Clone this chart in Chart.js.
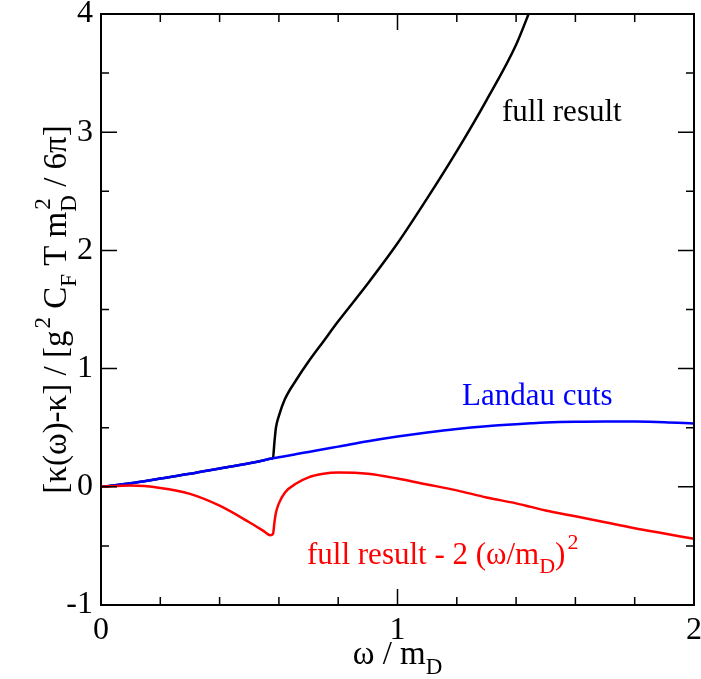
<!DOCTYPE html>
<html>
<head>
<meta charset="utf-8">
<script src="https://cdn.jsdelivr.net/npm/chart.js@4.4.0/dist/chart.umd.min.js"></script>
<style>
  html, body { margin: 0; padding: 0; background: #fff; }
</style>
</head>
<body>
<canvas id="chart" width="701" height="679"></canvas>
<script>
// omega / m_D sample points
const omega = [0, 0.1, 0.2, 0.3, 0.4, 0.5, 0.55, 0.571, 0.58, 0.585, 0.59, 0.6, 0.62, 0.66, 0.7, 0.75, 0.8, 0.9, 1.0, 1.1, 1.2, 1.3, 1.4, 1.45, 1.5, 1.6, 1.7, 1.8, 1.9, 2.0];

// full result (leaves the frame at the top near 1.44)
const fullResult = [0, 0.03, 0.07, 0.11, 0.155, 0.2, 0.225, 0.237, 0.245, 0.38, 0.5, 0.6, 0.74, 0.91, 1.06, 1.23, 1.40, 1.72, 2.06, 2.44, 2.84, 3.27, 3.74, 4.05, null, null, null, null, null, null];

// Landau cuts
const landauCuts = [0, 0.03, 0.07, 0.11, 0.155, 0.2, 0.225, 0.237, 0.241, 0.243, 0.245, 0.25, 0.258, 0.277, 0.295, 0.318, 0.34, 0.385, 0.425, 0.46, 0.49, 0.513, 0.53, 0.537, 0.543, 0.55, 0.553, 0.552, 0.546, 0.535];

// full result - 2 (omega/m_D)^2
const fullMinus = [0, 0.01, -0.01, -0.06, -0.16, -0.3, -0.377, -0.41, -0.40, -0.30, -0.22, -0.14, -0.05, 0.03, 0.08, 0.11, 0.12, 0.11, 0.07, 0.02, -0.03, -0.09, -0.14, -0.17, -0.2, -0.25, -0.3, -0.35, -0.395, -0.44];

const xTicks = [0, 1, 2];
const yTicks = [-1, 0, 1, 2, 3, 4];
const xMinorStep = 0.2;
const yMinorStep = 0.5;

const serif = '"Liberation Serif", "DejaVu Serif", serif';

function toPoints(ys) {
    return omega.map((x, i) => ({ x: x, y: ys[i] }));
}

// Draw text made of normal / sub / sup / subsup pieces, starting at (x, y) baseline
function drawRich(ctx, parts, x, y, size, color) {
    const small = Math.round(size * 0.7);
    ctx.fillStyle = color;
    ctx.textBaseline = 'alphabetic';
    ctx.textAlign = 'left';
    let cx = x;
    parts.forEach(p => {
        if (p.type === 'n') {
            ctx.font = size + 'px ' + serif;
            ctx.fillText(p.t, cx, y);
            cx += ctx.measureText(p.t).width;
        } else if (p.type === 'sub') {
            ctx.font = small + 'px ' + serif;
            ctx.fillText(p.t, cx, y + size * 0.3);
            cx += ctx.measureText(p.t).width;
        } else if (p.type === 'sup') {
            ctx.font = small + 'px ' + serif;
            ctx.fillText(p.t, cx + 2, y - size * 0.5);
            cx += ctx.measureText(p.t).width + 2;
        } else if (p.type === 'subsup') {
            ctx.font = small + 'px ' + serif;
            ctx.fillText(p.sub, cx, y + size * 0.3);
            ctx.fillText(p.sup, cx + 2, y - size * 0.5);
            cx += Math.max(ctx.measureText(p.sub).width, ctx.measureText(p.sup).width + 2);
        }
    });
    return cx - x;
}

function richWidth(ctx, parts, size) {
    const small = Math.round(size * 0.7);
    let w = 0;
    parts.forEach(p => {
        if (p.type === 'n') {
            ctx.font = size + 'px ' + serif;
            w += ctx.measureText(p.t).width;
        } else if (p.type === 'subsup') {
            ctx.font = small + 'px ' + serif;
            w += Math.max(ctx.measureText(p.sub).width, ctx.measureText(p.sup).width + 2);
        } else {
            ctx.font = small + 'px ' + serif;
            w += ctx.measureText(p.t).width + (p.type === 'sup' ? 2 : 0);
        }
    });
    return w;
}

const yTitle = [
    { type: 'n', t: '[\u03BA(\u03C9)-\u03BA] / [g' },
    { type: 'sup', t: '2' },
    { type: 'n', t: ' C' },
    { type: 'sub', t: 'F' },
    { type: 'n', t: ' T m' },
    { type: 'subsup', sub: 'D', sup: '2' },
    { type: 'n', t: ' / 6\u03C0]' }
];

const xTitle = [
    { type: 'n', t: '\u03C9 / m' },
    { type: 'sub', t: 'D' }
];

const redLabel = [
    { type: 'n', t: 'full result - 2 (\u03C9/m' },
    { type: 'sub', t: 'D' },
    { type: 'n', t: ')' },
    { type: 'sup', t: '2' }
];

// Frame, inward ticks, axis titles and curve labels
const decorations = {
    id: 'decorations',
    afterDraw(chart) {
        const ctx = chart.ctx;
        const xs = chart.scales.x;
        const ys = chart.scales.y;
        const a = chart.chartArea;
        ctx.save();

        ctx.strokeStyle = '#000';
        ctx.lineWidth = 2;
        ctx.strokeRect(a.left, a.top, a.right - a.left, a.bottom - a.top);

        ctx.lineWidth = 1.5;
        ctx.beginPath();
        for (let i = 0; i <= 10; i++) {
            const v = i * xMinorStep;
            const px = xs.getPixelForValue(v);
            const len = (i % 5 === 0) ? 16 : 8;
            ctx.moveTo(px, a.bottom); ctx.lineTo(px, a.bottom - len);
            ctx.moveTo(px, a.top); ctx.lineTo(px, a.top + len);
        }
        for (let i = 0; i <= 10; i++) {
            const v = -1 + i * yMinorStep;
            const py = ys.getPixelForValue(v);
            const len = (i % 2 === 0) ? 16 : 8;
            ctx.moveTo(a.left, py); ctx.lineTo(a.left + len, py);
            ctx.moveTo(a.right, py); ctx.lineTo(a.right - len, py);
        }
        ctx.stroke();

        // x axis title
        const xw = richWidth(ctx, xTitle, 33);
        drawRich(ctx, xTitle, (a.left + a.right) / 2 - xw / 2, 664, 33, '#000');

        // y axis title (rotated)
        const yw = richWidth(ctx, yTitle, 33);
        ctx.save();
        ctx.translate(66, (a.top + a.bottom) / 2);
        ctx.rotate(-Math.PI / 2);
        drawRich(ctx, yTitle, -yw / 2, 0, 33, '#000');
        ctx.restore();

        // curve labels
        drawRich(ctx, [{ type: 'n', t: 'full result' }], 502, 121, 31, '#000');
        drawRich(ctx, [{ type: 'n', t: 'Landau cuts' }], 462, 405, 31, '#0000ff');
        drawRich(ctx, redLabel, 307, 564, 31, '#ff0000');

        ctx.restore();
    }
};

new Chart(document.getElementById('chart'), {
    type: 'line',
    data: {
        datasets: [
            {
                label: 'full result - 2 (omega/m_D)^2',
                data: toPoints(fullMinus),
                borderColor: '#ff0000',
                borderWidth: 2.5,
                pointRadius: 0,
                cubicInterpolationMode: 'monotone',
                clip: 0
            },
            {
                label: 'Landau cuts',
                data: toPoints(landauCuts),
                borderColor: '#0000ff',
                borderWidth: 2.5,
                pointRadius: 0,
                cubicInterpolationMode: 'monotone',
                clip: 0
            },
            {
                label: 'full result',
                data: toPoints(fullResult),
                borderColor: '#000000',
                borderWidth: 2.5,
                pointRadius: 0,
                spanGaps: false,
                cubicInterpolationMode: 'monotone',
                clip: 0
            }
        ]
    },
    options: {
        responsive: false,
        animation: false,
        devicePixelRatio: 1,
        layout: { padding: { left: 0, top: 14, right: 7, bottom: 0 } },
        plugins: {
            legend: { display: false },
            tooltip: { enabled: false }
        },
        scales: {
            x: {
                type: 'linear',
                min: 0,
                max: 2,
                afterBuildTicks: s => { s.ticks = xTicks.map(v => ({ value: v })); },
                afterFit: s => { s.height = 74; s.paddingLeft = 0; s.paddingRight = 0; },
                border: { display: false },
                grid: { display: false, drawTicks: false },
                ticks: {
                    color: '#000',
                    padding: 6,
                    maxRotation: 0,
                    font: { family: serif, size: 32 }
                }
            },
            y: {
                type: 'linear',
                min: -1,
                max: 4,
                afterBuildTicks: s => { s.ticks = yTicks.map(v => ({ value: v })); },
                afterFit: s => { s.width = 101; s.paddingTop = 0; s.paddingBottom = 0; },
                border: { display: false },
                grid: { display: false, drawTicks: false },
                ticks: {
                    color: '#000',
                    padding: 8,
                    font: { family: serif, size: 32 }
                }
            }
        }
    },
    plugins: [decorations]
});
</script>
</body>
</html>
